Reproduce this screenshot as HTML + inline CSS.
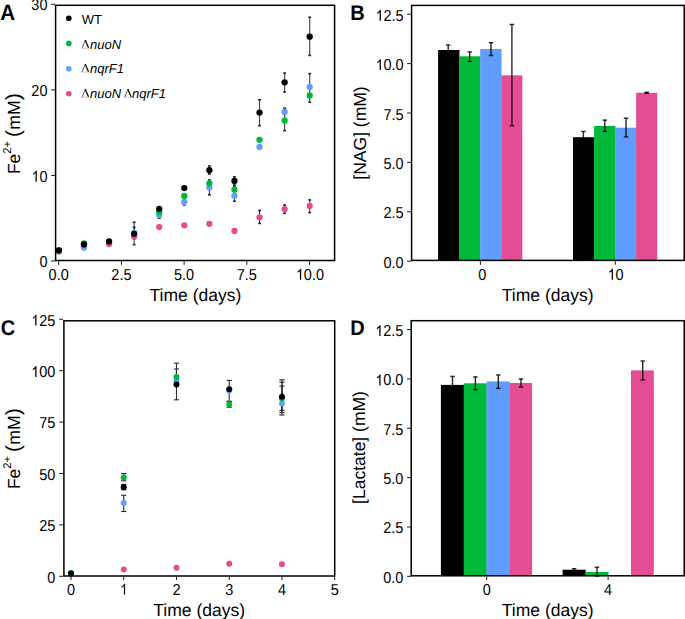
<!DOCTYPE html>
<html><head><meta charset="utf-8"><style>
html,body{margin:0;padding:0;background:#fff;}
svg{display:block;font-family:"Liberation Sans", sans-serif;}
text{fill:#000;text-rendering:geometricPrecision;}
</style></head><body>
<svg width="685" height="619" viewBox="0 0 685 619">
<rect width="685" height="619" fill="#fff"/>
<line x1="51.20" y1="261.00" x2="55.00" y2="261.00" stroke="#1a1a1a" stroke-width="1.0"/>
<text transform="translate(47.50,267.20) scale(1,1.09)" font-size="14.5" text-anchor="end" font-weight="normal" font-style="normal">0</text>
<line x1="51.20" y1="175.43" x2="55.00" y2="175.43" stroke="#1a1a1a" stroke-width="1.0"/>
<path d="M 763 0 L 583 0 L 583 1102 C 540 1063 483 1023 413 984 C 343 945 290 915 245 894 L 245 1061 C 330 1105 406 1159 479 1221 C 552 1284 604 1346 635 1409 L 763 1409 Z" fill="#000" transform="translate(31.37,181.63) scale(0.00708,-0.00772)"/>
<text transform="translate(47.50,181.63) scale(1,1.09)" font-size="14.5" text-anchor="end" font-weight="normal" font-style="normal"> 0</text>
<line x1="51.20" y1="89.86" x2="55.00" y2="89.86" stroke="#1a1a1a" stroke-width="1.0"/>
<text transform="translate(47.50,96.06) scale(1,1.09)" font-size="14.5" text-anchor="end" font-weight="normal" font-style="normal">20</text>
<line x1="51.20" y1="4.29" x2="55.00" y2="4.29" stroke="#1a1a1a" stroke-width="1.0"/>
<text transform="translate(47.50,10.49) scale(1,1.09)" font-size="14.5" text-anchor="end" font-weight="normal" font-style="normal">30</text>
<line x1="58.70" y1="261.20" x2="58.70" y2="264.80" stroke="#1a1a1a" stroke-width="1.0"/>
<text transform="translate(58.70,279.70) scale(1,1.09)" font-size="14.5" text-anchor="middle" font-weight="normal" font-style="normal">0.0</text>
<line x1="121.40" y1="261.20" x2="121.40" y2="264.80" stroke="#1a1a1a" stroke-width="1.0"/>
<text transform="translate(121.40,279.70) scale(1,1.09)" font-size="14.5" text-anchor="middle" font-weight="normal" font-style="normal">2.5</text>
<line x1="184.10" y1="261.20" x2="184.10" y2="264.80" stroke="#1a1a1a" stroke-width="1.0"/>
<text transform="translate(184.10,279.70) scale(1,1.09)" font-size="14.5" text-anchor="middle" font-weight="normal" font-style="normal">5.0</text>
<line x1="246.80" y1="261.20" x2="246.80" y2="264.80" stroke="#1a1a1a" stroke-width="1.0"/>
<text transform="translate(246.80,279.70) scale(1,1.09)" font-size="14.5" text-anchor="middle" font-weight="normal" font-style="normal">7.5</text>
<line x1="309.50" y1="261.20" x2="309.50" y2="264.80" stroke="#1a1a1a" stroke-width="1.0"/>
<path d="M 763 0 L 583 0 L 583 1102 C 540 1063 483 1023 413 984 C 343 945 290 915 245 894 L 245 1061 C 330 1105 406 1159 479 1221 C 552 1284 604 1346 635 1409 L 763 1409 Z" fill="#000" transform="translate(295.79,279.70) scale(0.00708,-0.00772)"/>
<text transform="translate(309.90,279.70) scale(1,1.09)" font-size="14.5" text-anchor="middle" font-weight="normal" font-style="normal"> 0.0</text>
<text x="195.40" y="300.50" font-size="17.5" text-anchor="middle" font-weight="normal" font-style="normal">Time (days)</text>
<text transform="translate(20.1,174.1) rotate(-90)" font-size="17.5" text-anchor="start">Fe<tspan font-size="11.3" dy="-9.3">2+</tspan><tspan dy="9.3" dx="3.8" font-size="20.5">(</tspan><tspan font-size="17.7" dx="0.3">mM</tspan><tspan font-size="20.5" dx="0.3">)</tspan></text>
<text transform="translate(0.20,19.90) scale(1,1.08)" font-size="20.5" text-anchor="start" font-weight="bold" font-style="normal">A</text>
<circle cx="68.80" cy="18.20" r="2.8" fill="#000000"/>
<circle cx="68.80" cy="43.40" r="2.8" fill="#00B938"/>
<circle cx="68.80" cy="68.80" r="2.8" fill="#619CFF"/>
<circle cx="68.80" cy="93.70" r="2.8" fill="#E44D94"/>
<text x="81.70" y="23.70" font-size="13.0" text-anchor="start" font-weight="normal" font-style="normal">WT</text>
<path d="M81.90,48.30 L85.40,40.10" stroke="#444" stroke-width="0.85" fill="none"/>
<path d="M85.20,40.10 L88.60,48.10" stroke="#111" stroke-width="1.35" fill="none"/>
<path d="M81.90,48.20 L88.90,48.20" stroke="#aaa" stroke-width="0.7" fill="none"/>
<text x="90.00" y="48.60" font-size="13.0" text-anchor="start" font-weight="normal" font-style="italic">nuoN</text>
<path d="M81.90,72.20 L85.40,64.00" stroke="#444" stroke-width="0.85" fill="none"/>
<path d="M85.20,64.00 L88.60,72.00" stroke="#111" stroke-width="1.35" fill="none"/>
<path d="M81.90,72.10 L88.90,72.10" stroke="#aaa" stroke-width="0.7" fill="none"/>
<text x="90.00" y="72.50" font-size="13.0" text-anchor="start" font-weight="normal" font-style="italic">nqrF1</text>
<path d="M81.90,97.30 L85.40,89.10" stroke="#444" stroke-width="0.85" fill="none"/>
<path d="M85.20,89.10 L88.60,97.10" stroke="#111" stroke-width="1.35" fill="none"/>
<path d="M81.90,97.20 L88.90,97.20" stroke="#aaa" stroke-width="0.7" fill="none"/>
<text x="90.00" y="97.60" font-size="13.0" text-anchor="start" font-weight="normal" font-style="italic">nuoN</text>
<path d="M124.50,97.30 L128.00,89.10" stroke="#444" stroke-width="0.85" fill="none"/>
<path d="M127.80,89.10 L131.20,97.10" stroke="#111" stroke-width="1.35" fill="none"/>
<path d="M124.50,97.20 L131.50,97.20" stroke="#aaa" stroke-width="0.7" fill="none"/>
<text x="132.00" y="97.60" font-size="13.0" text-anchor="start" font-weight="normal" font-style="italic">nqrF1</text>
<line x1="134.14" y1="222.30" x2="134.14" y2="244.60" stroke="#444" stroke-width="1.1"/>
<line x1="132.74" y1="222.30" x2="135.54" y2="222.30" stroke="#222" stroke-width="1.6"/>
<line x1="132.74" y1="244.60" x2="135.54" y2="244.60" stroke="#222" stroke-width="1.6"/>
<line x1="134.14" y1="227.30" x2="134.14" y2="238.70" stroke="#444" stroke-width="1.1"/>
<line x1="132.74" y1="227.30" x2="135.54" y2="227.30" stroke="#222" stroke-width="1.6"/>
<line x1="132.74" y1="238.70" x2="135.54" y2="238.70" stroke="#222" stroke-width="1.6"/>
<line x1="159.22" y1="211.80" x2="159.22" y2="218.20" stroke="#444" stroke-width="1.1"/>
<line x1="157.82" y1="211.80" x2="160.62" y2="211.80" stroke="#222" stroke-width="1.6"/>
<line x1="157.82" y1="218.20" x2="160.62" y2="218.20" stroke="#222" stroke-width="1.6"/>
<line x1="184.30" y1="198.80" x2="184.30" y2="205.00" stroke="#444" stroke-width="1.1"/>
<line x1="182.90" y1="198.80" x2="185.70" y2="198.80" stroke="#222" stroke-width="1.6"/>
<line x1="182.90" y1="205.00" x2="185.70" y2="205.00" stroke="#222" stroke-width="1.6"/>
<line x1="209.38" y1="166.00" x2="209.38" y2="174.00" stroke="#444" stroke-width="1.1"/>
<line x1="207.98" y1="166.00" x2="210.78" y2="166.00" stroke="#222" stroke-width="1.6"/>
<line x1="207.98" y1="174.00" x2="210.78" y2="174.00" stroke="#222" stroke-width="1.6"/>
<line x1="209.38" y1="180.00" x2="209.38" y2="194.80" stroke="#444" stroke-width="1.1"/>
<line x1="207.98" y1="180.00" x2="210.78" y2="180.00" stroke="#222" stroke-width="1.6"/>
<line x1="207.98" y1="194.80" x2="210.78" y2="194.80" stroke="#222" stroke-width="1.6"/>
<line x1="234.46" y1="176.80" x2="234.46" y2="185.00" stroke="#444" stroke-width="1.1"/>
<line x1="233.06" y1="176.80" x2="235.86" y2="176.80" stroke="#222" stroke-width="1.6"/>
<line x1="233.06" y1="185.00" x2="235.86" y2="185.00" stroke="#222" stroke-width="1.6"/>
<line x1="234.46" y1="186.00" x2="234.46" y2="201.30" stroke="#444" stroke-width="1.1"/>
<line x1="233.06" y1="186.00" x2="235.86" y2="186.00" stroke="#222" stroke-width="1.6"/>
<line x1="233.06" y1="201.30" x2="235.86" y2="201.30" stroke="#222" stroke-width="1.6"/>
<line x1="259.54" y1="99.80" x2="259.54" y2="125.70" stroke="#444" stroke-width="1.1"/>
<line x1="258.14" y1="99.80" x2="260.94" y2="99.80" stroke="#222" stroke-width="1.6"/>
<line x1="258.14" y1="125.70" x2="260.94" y2="125.70" stroke="#222" stroke-width="1.6"/>
<line x1="259.54" y1="210.50" x2="259.54" y2="223.40" stroke="#444" stroke-width="1.1"/>
<line x1="258.14" y1="210.50" x2="260.94" y2="210.50" stroke="#222" stroke-width="1.6"/>
<line x1="258.14" y1="223.40" x2="260.94" y2="223.40" stroke="#222" stroke-width="1.6"/>
<line x1="284.62" y1="73.10" x2="284.62" y2="92.00" stroke="#444" stroke-width="1.1"/>
<line x1="283.22" y1="73.10" x2="286.02" y2="73.10" stroke="#222" stroke-width="1.6"/>
<line x1="283.22" y1="92.00" x2="286.02" y2="92.00" stroke="#222" stroke-width="1.6"/>
<line x1="284.62" y1="108.20" x2="284.62" y2="130.60" stroke="#444" stroke-width="1.1"/>
<line x1="283.22" y1="108.20" x2="286.02" y2="108.20" stroke="#222" stroke-width="1.6"/>
<line x1="283.22" y1="130.60" x2="286.02" y2="130.60" stroke="#222" stroke-width="1.6"/>
<line x1="284.62" y1="205.00" x2="284.62" y2="213.20" stroke="#444" stroke-width="1.1"/>
<line x1="283.22" y1="205.00" x2="286.02" y2="205.00" stroke="#222" stroke-width="1.6"/>
<line x1="283.22" y1="213.20" x2="286.02" y2="213.20" stroke="#222" stroke-width="1.6"/>
<line x1="309.70" y1="17.30" x2="309.70" y2="55.40" stroke="#444" stroke-width="1.1"/>
<line x1="308.30" y1="17.30" x2="311.10" y2="17.30" stroke="#222" stroke-width="1.6"/>
<line x1="308.30" y1="55.40" x2="311.10" y2="55.40" stroke="#222" stroke-width="1.6"/>
<line x1="309.70" y1="73.60" x2="309.70" y2="102.20" stroke="#444" stroke-width="1.1"/>
<line x1="308.30" y1="73.60" x2="311.10" y2="73.60" stroke="#222" stroke-width="1.6"/>
<line x1="308.30" y1="102.20" x2="311.10" y2="102.20" stroke="#222" stroke-width="1.6"/>
<line x1="309.70" y1="199.90" x2="309.70" y2="212.60" stroke="#444" stroke-width="1.1"/>
<line x1="308.30" y1="199.90" x2="311.10" y2="199.90" stroke="#222" stroke-width="1.6"/>
<line x1="308.30" y1="212.60" x2="311.10" y2="212.60" stroke="#222" stroke-width="1.6"/>
<circle cx="58.90" cy="251.30" r="3.15" fill="#E44D94"/>
<circle cx="83.98" cy="246.20" r="3.15" fill="#E44D94"/>
<circle cx="109.06" cy="244.10" r="3.15" fill="#E44D94"/>
<circle cx="134.14" cy="236.50" r="3.15" fill="#E44D94"/>
<circle cx="159.22" cy="227.10" r="3.15" fill="#E44D94"/>
<circle cx="184.30" cy="225.30" r="3.15" fill="#E44D94"/>
<circle cx="209.38" cy="223.80" r="3.15" fill="#E44D94"/>
<circle cx="234.46" cy="231.00" r="3.15" fill="#E44D94"/>
<circle cx="259.54" cy="217.30" r="3.15" fill="#E44D94"/>
<circle cx="284.62" cy="209.10" r="3.15" fill="#E44D94"/>
<circle cx="309.70" cy="206.00" r="3.15" fill="#E44D94"/>
<circle cx="58.90" cy="251.30" r="3.15" fill="#619CFF"/>
<circle cx="83.98" cy="247.60" r="3.15" fill="#619CFF"/>
<circle cx="134.14" cy="233.00" r="3.15" fill="#619CFF"/>
<circle cx="159.22" cy="215.00" r="3.15" fill="#619CFF"/>
<circle cx="184.30" cy="201.90" r="3.15" fill="#619CFF"/>
<circle cx="209.38" cy="187.60" r="3.15" fill="#619CFF"/>
<circle cx="234.46" cy="195.80" r="3.15" fill="#619CFF"/>
<circle cx="259.54" cy="147.00" r="3.15" fill="#619CFF"/>
<circle cx="284.62" cy="111.90" r="3.15" fill="#619CFF"/>
<circle cx="309.70" cy="86.90" r="3.15" fill="#619CFF"/>
<circle cx="58.90" cy="250.50" r="3.15" fill="#00B938"/>
<circle cx="83.98" cy="243.40" r="3.15" fill="#00B938"/>
<circle cx="159.22" cy="212.00" r="3.15" fill="#00B938"/>
<circle cx="184.30" cy="196.00" r="3.15" fill="#00B938"/>
<circle cx="209.38" cy="183.30" r="3.15" fill="#00B938"/>
<circle cx="234.46" cy="189.70" r="3.15" fill="#00B938"/>
<circle cx="259.54" cy="139.80" r="3.15" fill="#00B938"/>
<circle cx="284.62" cy="120.60" r="3.15" fill="#00B938"/>
<circle cx="309.70" cy="95.40" r="3.15" fill="#00B938"/>
<circle cx="58.90" cy="250.30" r="3.15" fill="#000000"/>
<circle cx="83.98" cy="244.40" r="3.15" fill="#000000"/>
<circle cx="109.06" cy="241.40" r="3.15" fill="#000000"/>
<circle cx="134.14" cy="233.80" r="3.15" fill="#000000"/>
<circle cx="159.22" cy="208.80" r="3.15" fill="#000000"/>
<circle cx="184.30" cy="188.10" r="3.15" fill="#000000"/>
<circle cx="209.38" cy="170.20" r="3.15" fill="#000000"/>
<circle cx="234.46" cy="180.90" r="3.15" fill="#000000"/>
<circle cx="259.54" cy="112.60" r="3.15" fill="#000000"/>
<circle cx="284.62" cy="82.30" r="3.15" fill="#000000"/>
<circle cx="309.70" cy="36.70" r="3.15" fill="#000000"/>
<rect x="55.6" y="5.3" width="279.00" height="255.20" fill="none" stroke="#000" stroke-width="1.5"/>
<line x1="407.10" y1="261.20" x2="411.00" y2="261.20" stroke="#1a1a1a" stroke-width="1.0"/>
<text transform="translate(403.70,267.70) scale(1,1.09)" font-size="14.5" text-anchor="end" font-weight="normal" font-style="normal">0.0</text>
<line x1="407.10" y1="211.80" x2="411.00" y2="211.80" stroke="#1a1a1a" stroke-width="1.0"/>
<text transform="translate(403.70,218.30) scale(1,1.09)" font-size="14.5" text-anchor="end" font-weight="normal" font-style="normal">2.5</text>
<line x1="407.10" y1="162.40" x2="411.00" y2="162.40" stroke="#1a1a1a" stroke-width="1.0"/>
<text transform="translate(403.70,168.90) scale(1,1.09)" font-size="14.5" text-anchor="end" font-weight="normal" font-style="normal">5.0</text>
<line x1="407.10" y1="113.00" x2="411.00" y2="113.00" stroke="#1a1a1a" stroke-width="1.0"/>
<text transform="translate(403.70,119.50) scale(1,1.09)" font-size="14.5" text-anchor="end" font-weight="normal" font-style="normal">7.5</text>
<line x1="407.10" y1="63.60" x2="411.00" y2="63.60" stroke="#1a1a1a" stroke-width="1.0"/>
<path d="M 763 0 L 583 0 L 583 1102 C 540 1063 483 1023 413 984 C 343 945 290 915 245 894 L 245 1061 C 330 1105 406 1159 479 1221 C 552 1284 604 1346 635 1409 L 763 1409 Z" fill="#000" transform="translate(375.48,70.10) scale(0.00708,-0.00772)"/>
<text transform="translate(403.70,70.10) scale(1,1.09)" font-size="14.5" text-anchor="end" font-weight="normal" font-style="normal"> 0.0</text>
<line x1="407.10" y1="14.20" x2="411.00" y2="14.20" stroke="#1a1a1a" stroke-width="1.0"/>
<path d="M 763 0 L 583 0 L 583 1102 C 540 1063 483 1023 413 984 C 343 945 290 915 245 894 L 245 1061 C 330 1105 406 1159 479 1221 C 552 1284 604 1346 635 1409 L 763 1409 Z" fill="#000" transform="translate(375.48,20.70) scale(0.00708,-0.00772)"/>
<text transform="translate(403.70,20.70) scale(1,1.09)" font-size="14.5" text-anchor="end" font-weight="normal" font-style="normal"> 2.5</text>
<rect x="438.10" y="50.00" width="21.35" height="210.40" fill="#000000"/>
<rect x="459.15" y="56.30" width="21.35" height="204.10" fill="#00B938"/>
<rect x="480.20" y="49.00" width="21.35" height="211.40" fill="#619CFF"/>
<rect x="501.25" y="75.30" width="21.05" height="185.10" fill="#E44D94"/>
<rect x="573.00" y="137.20" width="21.35" height="123.20" fill="#000000"/>
<rect x="594.05" y="126.00" width="21.35" height="134.40" fill="#00B938"/>
<rect x="615.10" y="127.70" width="21.35" height="132.70" fill="#619CFF"/>
<rect x="636.15" y="92.80" width="21.05" height="167.60" fill="#E44D94"/>
<line x1="448.20" y1="45.00" x2="448.20" y2="55.00" stroke="#000" stroke-width="1.4" stroke-opacity="0.85"/>
<line x1="446.00" y1="45.00" x2="450.40" y2="45.00" stroke="#000" stroke-width="1.4" stroke-opacity="0.85"/>
<line x1="446.00" y1="55.00" x2="450.40" y2="55.00" stroke="#000" stroke-width="1.4" stroke-opacity="0.85"/>
<line x1="469.70" y1="51.90" x2="469.70" y2="61.40" stroke="#000" stroke-width="1.4" stroke-opacity="0.85"/>
<line x1="467.50" y1="51.90" x2="471.90" y2="51.90" stroke="#000" stroke-width="1.4" stroke-opacity="0.85"/>
<line x1="467.50" y1="61.40" x2="471.90" y2="61.40" stroke="#000" stroke-width="1.4" stroke-opacity="0.85"/>
<line x1="491.00" y1="42.70" x2="491.00" y2="55.50" stroke="#000" stroke-width="1.4" stroke-opacity="0.85"/>
<line x1="488.80" y1="42.70" x2="493.20" y2="42.70" stroke="#000" stroke-width="1.4" stroke-opacity="0.85"/>
<line x1="488.80" y1="55.50" x2="493.20" y2="55.50" stroke="#000" stroke-width="1.4" stroke-opacity="0.85"/>
<line x1="511.90" y1="24.50" x2="511.90" y2="125.70" stroke="#000" stroke-width="1.4" stroke-opacity="0.85"/>
<line x1="509.70" y1="24.50" x2="514.10" y2="24.50" stroke="#000" stroke-width="1.4" stroke-opacity="0.85"/>
<line x1="509.70" y1="125.70" x2="514.10" y2="125.70" stroke="#000" stroke-width="1.4" stroke-opacity="0.85"/>
<line x1="583.40" y1="131.50" x2="583.40" y2="143.00" stroke="#000" stroke-width="1.4" stroke-opacity="0.85"/>
<line x1="581.20" y1="131.50" x2="585.60" y2="131.50" stroke="#000" stroke-width="1.4" stroke-opacity="0.85"/>
<line x1="581.20" y1="143.00" x2="585.60" y2="143.00" stroke="#000" stroke-width="1.4" stroke-opacity="0.85"/>
<line x1="604.80" y1="120.10" x2="604.80" y2="131.40" stroke="#000" stroke-width="1.4" stroke-opacity="0.85"/>
<line x1="602.60" y1="120.10" x2="607.00" y2="120.10" stroke="#000" stroke-width="1.4" stroke-opacity="0.85"/>
<line x1="602.60" y1="131.40" x2="607.00" y2="131.40" stroke="#000" stroke-width="1.4" stroke-opacity="0.85"/>
<line x1="626.00" y1="118.20" x2="626.00" y2="136.90" stroke="#000" stroke-width="1.4" stroke-opacity="0.85"/>
<line x1="623.80" y1="118.20" x2="628.20" y2="118.20" stroke="#000" stroke-width="1.4" stroke-opacity="0.85"/>
<line x1="623.80" y1="136.90" x2="628.20" y2="136.90" stroke="#000" stroke-width="1.4" stroke-opacity="0.85"/>
<line x1="646.60" y1="92.30" x2="646.60" y2="93.30" stroke="#000" stroke-width="1.4" stroke-opacity="0.85"/>
<line x1="644.40" y1="92.30" x2="648.80" y2="92.30" stroke="#000" stroke-width="1.4" stroke-opacity="0.85"/>
<line x1="644.40" y1="93.30" x2="648.80" y2="93.30" stroke="#000" stroke-width="1.4" stroke-opacity="0.85"/>
<rect x="411.6" y="5.4" width="272.60" height="255.00" fill="none" stroke="#000" stroke-width="1.5"/>
<line x1="480.40" y1="261.20" x2="480.40" y2="264.80" stroke="#1a1a1a" stroke-width="1.0"/>
<text transform="translate(482.20,279.70) scale(1,1.09)" font-size="14.5" text-anchor="middle" font-weight="normal" font-style="normal">0</text>
<line x1="615.30" y1="261.20" x2="615.30" y2="264.80" stroke="#1a1a1a" stroke-width="1.0"/>
<path d="M 763 0 L 583 0 L 583 1102 C 540 1063 483 1023 413 984 C 343 945 290 915 245 894 L 245 1061 C 330 1105 406 1159 479 1221 C 552 1284 604 1346 635 1409 L 763 1409 Z" fill="#000" transform="translate(607.54,279.70) scale(0.00708,-0.00772)"/>
<text transform="translate(615.60,279.70) scale(1,1.09)" font-size="14.5" text-anchor="middle" font-weight="normal" font-style="normal"> 0</text>
<text x="547.70" y="300.50" font-size="17.5" text-anchor="middle" font-weight="normal" font-style="normal">Time (days)</text>
<text transform="translate(365.7,133) rotate(-90)" font-size="17.5" text-anchor="middle">[NAG] (mM)</text>
<text transform="translate(350.30,19.60) scale(1,1.06)" font-size="20.0" text-anchor="start" font-weight="bold" font-style="normal">B</text>
<line x1="59.20" y1="576.30" x2="63.00" y2="576.30" stroke="#1a1a1a" stroke-width="1.0"/>
<text transform="translate(55.30,582.60) scale(1,1.09)" font-size="14.5" text-anchor="end" font-weight="normal" font-style="normal">0</text>
<line x1="59.20" y1="524.90" x2="63.00" y2="524.90" stroke="#1a1a1a" stroke-width="1.0"/>
<text transform="translate(55.30,531.20) scale(1,1.09)" font-size="14.5" text-anchor="end" font-weight="normal" font-style="normal">25</text>
<line x1="59.20" y1="473.50" x2="63.00" y2="473.50" stroke="#1a1a1a" stroke-width="1.0"/>
<text transform="translate(55.30,479.80) scale(1,1.09)" font-size="14.5" text-anchor="end" font-weight="normal" font-style="normal">50</text>
<line x1="59.20" y1="422.10" x2="63.00" y2="422.10" stroke="#1a1a1a" stroke-width="1.0"/>
<text transform="translate(55.30,428.40) scale(1,1.09)" font-size="14.5" text-anchor="end" font-weight="normal" font-style="normal">75</text>
<line x1="59.20" y1="370.70" x2="63.00" y2="370.70" stroke="#1a1a1a" stroke-width="1.0"/>
<path d="M 763 0 L 583 0 L 583 1102 C 540 1063 483 1023 413 984 C 343 945 290 915 245 894 L 245 1061 C 330 1105 406 1159 479 1221 C 552 1284 604 1346 635 1409 L 763 1409 Z" fill="#000" transform="translate(31.11,377.00) scale(0.00708,-0.00772)"/>
<text transform="translate(55.30,377.00) scale(1,1.09)" font-size="14.5" text-anchor="end" font-weight="normal" font-style="normal"> 00</text>
<line x1="59.20" y1="319.30" x2="63.00" y2="319.30" stroke="#1a1a1a" stroke-width="1.0"/>
<path d="M 763 0 L 583 0 L 583 1102 C 540 1063 483 1023 413 984 C 343 945 290 915 245 894 L 245 1061 C 330 1105 406 1159 479 1221 C 552 1284 604 1346 635 1409 L 763 1409 Z" fill="#000" transform="translate(31.11,325.60) scale(0.00708,-0.00772)"/>
<text transform="translate(55.30,325.60) scale(1,1.09)" font-size="14.5" text-anchor="end" font-weight="normal" font-style="normal"> 25</text>
<line x1="71.00" y1="576.80" x2="71.00" y2="580.00" stroke="#1a1a1a" stroke-width="1.0"/>
<text transform="translate(71.00,594.60) scale(1,1.09)" font-size="14.5" text-anchor="middle" font-weight="normal" font-style="normal">0</text>
<line x1="123.74" y1="576.80" x2="123.74" y2="580.00" stroke="#1a1a1a" stroke-width="1.0"/>
<path d="M 763 0 L 583 0 L 583 1102 C 540 1063 483 1023 413 984 C 343 945 290 915 245 894 L 245 1061 C 330 1105 406 1159 479 1221 C 552 1284 604 1346 635 1409 L 763 1409 Z" fill="#000" transform="translate(119.71,594.60) scale(0.00708,-0.00772)"/>
<text transform="translate(123.74,594.60) scale(1,1.09)" font-size="14.5" text-anchor="middle" font-weight="normal" font-style="normal"> </text>
<line x1="176.48" y1="576.80" x2="176.48" y2="580.00" stroke="#1a1a1a" stroke-width="1.0"/>
<text transform="translate(176.48,594.60) scale(1,1.09)" font-size="14.5" text-anchor="middle" font-weight="normal" font-style="normal">2</text>
<line x1="229.22" y1="576.80" x2="229.22" y2="580.00" stroke="#1a1a1a" stroke-width="1.0"/>
<text transform="translate(229.22,594.60) scale(1,1.09)" font-size="14.5" text-anchor="middle" font-weight="normal" font-style="normal">3</text>
<line x1="281.96" y1="576.80" x2="281.96" y2="580.00" stroke="#1a1a1a" stroke-width="1.0"/>
<text transform="translate(281.96,594.60) scale(1,1.09)" font-size="14.5" text-anchor="middle" font-weight="normal" font-style="normal">4</text>
<line x1="334.70" y1="576.80" x2="334.70" y2="580.00" stroke="#1a1a1a" stroke-width="1.0"/>
<text transform="translate(334.70,594.60) scale(1,1.09)" font-size="14.5" text-anchor="middle" font-weight="normal" font-style="normal">5</text>
<text x="199.20" y="615.50" font-size="17.5" text-anchor="middle" font-weight="normal" font-style="normal">Time (days)</text>
<text transform="translate(20.1,489.1) rotate(-90)" font-size="17.5" text-anchor="start">Fe<tspan font-size="11.3" dy="-9.3">2+</tspan><tspan dy="9.3" dx="3.8" font-size="20.5">(</tspan><tspan font-size="17.7" dx="0.3">mM</tspan><tspan font-size="20.5" dx="0.3">)</tspan></text>
<text transform="translate(0.80,334.50) scale(1,1.06)" font-size="20.0" text-anchor="start" font-weight="bold" font-style="normal">C</text>
<line x1="123.74" y1="473.50" x2="123.74" y2="480.80" stroke="#2a2a2a" stroke-width="1.1"/>
<line x1="121.14" y1="473.50" x2="126.34" y2="473.50" stroke="#2a2a2a" stroke-width="1.1"/>
<line x1="121.14" y1="480.80" x2="126.34" y2="480.80" stroke="#2a2a2a" stroke-width="1.1"/>
<line x1="123.74" y1="484.40" x2="123.74" y2="489.70" stroke="#2a2a2a" stroke-width="1.1"/>
<line x1="121.14" y1="484.40" x2="126.34" y2="484.40" stroke="#2a2a2a" stroke-width="1.1"/>
<line x1="121.14" y1="489.70" x2="126.34" y2="489.70" stroke="#2a2a2a" stroke-width="1.1"/>
<line x1="123.74" y1="495.30" x2="123.74" y2="511.50" stroke="#2a2a2a" stroke-width="1.1"/>
<line x1="121.14" y1="495.30" x2="126.34" y2="495.30" stroke="#2a2a2a" stroke-width="1.1"/>
<line x1="121.14" y1="511.50" x2="126.34" y2="511.50" stroke="#2a2a2a" stroke-width="1.1"/>
<line x1="176.48" y1="363.20" x2="176.48" y2="399.80" stroke="#2a2a2a" stroke-width="1.1"/>
<line x1="173.88" y1="363.20" x2="179.08" y2="363.20" stroke="#2a2a2a" stroke-width="1.1"/>
<line x1="173.88" y1="399.80" x2="179.08" y2="399.80" stroke="#2a2a2a" stroke-width="1.1"/>
<line x1="176.48" y1="369.00" x2="176.48" y2="385.00" stroke="#2a2a2a" stroke-width="1.1"/>
<line x1="173.88" y1="369.00" x2="179.08" y2="369.00" stroke="#2a2a2a" stroke-width="1.1"/>
<line x1="173.88" y1="385.00" x2="179.08" y2="385.00" stroke="#2a2a2a" stroke-width="1.1"/>
<line x1="229.22" y1="380.40" x2="229.22" y2="401.40" stroke="#2a2a2a" stroke-width="1.1"/>
<line x1="226.62" y1="380.40" x2="231.82" y2="380.40" stroke="#2a2a2a" stroke-width="1.1"/>
<line x1="226.62" y1="401.40" x2="231.82" y2="401.40" stroke="#2a2a2a" stroke-width="1.1"/>
<line x1="229.22" y1="401.40" x2="229.22" y2="407.20" stroke="#2a2a2a" stroke-width="1.1"/>
<line x1="226.62" y1="401.40" x2="231.82" y2="401.40" stroke="#2a2a2a" stroke-width="1.1"/>
<line x1="226.62" y1="407.20" x2="231.82" y2="407.20" stroke="#2a2a2a" stroke-width="1.1"/>
<line x1="281.96" y1="379.80" x2="281.96" y2="412.70" stroke="#2a2a2a" stroke-width="1.1"/>
<line x1="279.36" y1="379.80" x2="284.56" y2="379.80" stroke="#2a2a2a" stroke-width="1.1"/>
<line x1="279.36" y1="412.70" x2="284.56" y2="412.70" stroke="#2a2a2a" stroke-width="1.1"/>
<line x1="281.96" y1="382.10" x2="281.96" y2="415.00" stroke="#2a2a2a" stroke-width="1.1"/>
<line x1="279.36" y1="382.10" x2="284.56" y2="382.10" stroke="#2a2a2a" stroke-width="1.1"/>
<line x1="279.36" y1="415.00" x2="284.56" y2="415.00" stroke="#2a2a2a" stroke-width="1.1"/>
<line x1="281.96" y1="386.00" x2="281.96" y2="410.40" stroke="#2a2a2a" stroke-width="1.1"/>
<line x1="279.36" y1="386.00" x2="284.56" y2="386.00" stroke="#2a2a2a" stroke-width="1.1"/>
<line x1="279.36" y1="410.40" x2="284.56" y2="410.40" stroke="#2a2a2a" stroke-width="1.1"/>
<circle cx="71.00" cy="573.60" r="3.0" fill="#E44D94"/>
<circle cx="123.74" cy="569.60" r="3.0" fill="#E44D94"/>
<circle cx="176.48" cy="567.80" r="3.0" fill="#E44D94"/>
<circle cx="229.22" cy="563.80" r="3.0" fill="#E44D94"/>
<circle cx="281.96" cy="564.20" r="3.0" fill="#E44D94"/>
<circle cx="71.00" cy="573.60" r="3.0" fill="#619CFF"/>
<circle cx="123.74" cy="503.00" r="3.0" fill="#619CFF"/>
<circle cx="176.48" cy="381.00" r="3.0" fill="#619CFF"/>
<circle cx="229.22" cy="390.50" r="3.0" fill="#619CFF"/>
<circle cx="281.96" cy="403.40" r="3.0" fill="#619CFF"/>
<circle cx="71.00" cy="572.90" r="3.0" fill="#00B938"/>
<circle cx="123.74" cy="477.50" r="3.0" fill="#00B938"/>
<circle cx="176.48" cy="377.00" r="3.0" fill="#00B938"/>
<circle cx="229.22" cy="404.30" r="3.0" fill="#00B938"/>
<circle cx="281.96" cy="398.50" r="3.0" fill="#00B938"/>
<circle cx="71.00" cy="573.60" r="3.0" fill="#000000"/>
<circle cx="123.74" cy="487.20" r="3.0" fill="#000000"/>
<circle cx="176.48" cy="384.40" r="3.0" fill="#000000"/>
<circle cx="229.22" cy="389.20" r="3.0" fill="#000000"/>
<circle cx="281.96" cy="396.80" r="3.0" fill="#000000"/>
<rect x="63.9" y="320.8" width="270.80" height="255.20" fill="none" stroke="#000" stroke-width="1.5"/>
<line x1="407.10" y1="576.30" x2="411.00" y2="576.30" stroke="#1a1a1a" stroke-width="1.0"/>
<text transform="translate(403.40,582.80) scale(1,1.09)" font-size="14.5" text-anchor="end" font-weight="normal" font-style="normal">0.0</text>
<line x1="407.10" y1="526.95" x2="411.00" y2="526.95" stroke="#1a1a1a" stroke-width="1.0"/>
<text transform="translate(403.40,533.45) scale(1,1.09)" font-size="14.5" text-anchor="end" font-weight="normal" font-style="normal">2.5</text>
<line x1="407.10" y1="477.60" x2="411.00" y2="477.60" stroke="#1a1a1a" stroke-width="1.0"/>
<text transform="translate(403.40,484.10) scale(1,1.09)" font-size="14.5" text-anchor="end" font-weight="normal" font-style="normal">5.0</text>
<line x1="407.10" y1="428.25" x2="411.00" y2="428.25" stroke="#1a1a1a" stroke-width="1.0"/>
<text transform="translate(403.40,434.75) scale(1,1.09)" font-size="14.5" text-anchor="end" font-weight="normal" font-style="normal">7.5</text>
<line x1="407.10" y1="378.90" x2="411.00" y2="378.90" stroke="#1a1a1a" stroke-width="1.0"/>
<path d="M 763 0 L 583 0 L 583 1102 C 540 1063 483 1023 413 984 C 343 945 290 915 245 894 L 245 1061 C 330 1105 406 1159 479 1221 C 552 1284 604 1346 635 1409 L 763 1409 Z" fill="#000" transform="translate(375.18,385.40) scale(0.00708,-0.00772)"/>
<text transform="translate(403.40,385.40) scale(1,1.09)" font-size="14.5" text-anchor="end" font-weight="normal" font-style="normal"> 0.0</text>
<line x1="407.10" y1="329.55" x2="411.00" y2="329.55" stroke="#1a1a1a" stroke-width="1.0"/>
<path d="M 763 0 L 583 0 L 583 1102 C 540 1063 483 1023 413 984 C 343 945 290 915 245 894 L 245 1061 C 330 1105 406 1159 479 1221 C 552 1284 604 1346 635 1409 L 763 1409 Z" fill="#000" transform="translate(375.18,336.05) scale(0.00708,-0.00772)"/>
<text transform="translate(403.40,336.05) scale(1,1.09)" font-size="14.5" text-anchor="end" font-weight="normal" font-style="normal"> 2.5</text>
<rect x="440.90" y="384.90" width="23.10" height="190.90" fill="#000000"/>
<rect x="463.70" y="383.30" width="23.10" height="192.50" fill="#00B938"/>
<rect x="486.50" y="381.40" width="23.10" height="194.40" fill="#619CFF"/>
<rect x="509.30" y="383.00" width="22.80" height="192.80" fill="#E44D94"/>
<rect x="562.60" y="569.70" width="23.10" height="6.10" fill="#000000"/>
<rect x="585.40" y="571.90" width="23.10" height="3.90" fill="#00B938"/>
<rect x="631.00" y="370.40" width="22.80" height="205.40" fill="#E44D94"/>
<line x1="452.50" y1="376.40" x2="452.50" y2="393.40" stroke="#000" stroke-width="1.4" stroke-opacity="0.85"/>
<line x1="450.30" y1="376.40" x2="454.70" y2="376.40" stroke="#000" stroke-width="1.4" stroke-opacity="0.85"/>
<line x1="450.30" y1="393.40" x2="454.70" y2="393.40" stroke="#000" stroke-width="1.4" stroke-opacity="0.85"/>
<line x1="475.40" y1="376.90" x2="475.40" y2="389.70" stroke="#000" stroke-width="1.4" stroke-opacity="0.85"/>
<line x1="473.20" y1="376.90" x2="477.60" y2="376.90" stroke="#000" stroke-width="1.4" stroke-opacity="0.85"/>
<line x1="473.20" y1="389.70" x2="477.60" y2="389.70" stroke="#000" stroke-width="1.4" stroke-opacity="0.85"/>
<line x1="498.30" y1="374.90" x2="498.30" y2="388.40" stroke="#000" stroke-width="1.4" stroke-opacity="0.85"/>
<line x1="496.10" y1="374.90" x2="500.50" y2="374.90" stroke="#000" stroke-width="1.4" stroke-opacity="0.85"/>
<line x1="496.10" y1="388.40" x2="500.50" y2="388.40" stroke="#000" stroke-width="1.4" stroke-opacity="0.85"/>
<line x1="521.00" y1="379.00" x2="521.00" y2="387.00" stroke="#000" stroke-width="1.4" stroke-opacity="0.85"/>
<line x1="518.80" y1="379.00" x2="523.20" y2="379.00" stroke="#000" stroke-width="1.4" stroke-opacity="0.85"/>
<line x1="518.80" y1="387.00" x2="523.20" y2="387.00" stroke="#000" stroke-width="1.4" stroke-opacity="0.85"/>
<line x1="574.10" y1="568.70" x2="574.10" y2="570.70" stroke="#000" stroke-width="1.4" stroke-opacity="0.85"/>
<line x1="571.90" y1="568.70" x2="576.30" y2="568.70" stroke="#000" stroke-width="1.4" stroke-opacity="0.85"/>
<line x1="571.90" y1="570.70" x2="576.30" y2="570.70" stroke="#000" stroke-width="1.4" stroke-opacity="0.85"/>
<line x1="597.00" y1="567.20" x2="597.00" y2="576.00" stroke="#000" stroke-width="1.4" stroke-opacity="0.85"/>
<line x1="594.80" y1="567.20" x2="599.20" y2="567.20" stroke="#000" stroke-width="1.4" stroke-opacity="0.85"/>
<line x1="594.80" y1="576.00" x2="599.20" y2="576.00" stroke="#000" stroke-width="1.4" stroke-opacity="0.85"/>
<line x1="642.70" y1="361.00" x2="642.70" y2="379.90" stroke="#000" stroke-width="1.4" stroke-opacity="0.85"/>
<line x1="640.50" y1="361.00" x2="644.90" y2="361.00" stroke="#000" stroke-width="1.4" stroke-opacity="0.85"/>
<line x1="640.50" y1="379.90" x2="644.90" y2="379.90" stroke="#000" stroke-width="1.4" stroke-opacity="0.85"/>
<rect x="411.2" y="320.7" width="273.00" height="255.10" fill="none" stroke="#000" stroke-width="1.5"/>
<line x1="486.70" y1="576.80" x2="486.70" y2="580.00" stroke="#1a1a1a" stroke-width="1.0"/>
<text transform="translate(486.70,594.60) scale(1,1.09)" font-size="14.5" text-anchor="middle" font-weight="normal" font-style="normal">0</text>
<line x1="608.10" y1="576.80" x2="608.10" y2="580.00" stroke="#1a1a1a" stroke-width="1.0"/>
<text transform="translate(608.10,594.60) scale(1,1.09)" font-size="14.5" text-anchor="middle" font-weight="normal" font-style="normal">4</text>
<text x="547.70" y="615.50" font-size="17.5" text-anchor="middle" font-weight="normal" font-style="normal">Time (days)</text>
<text transform="translate(364.7,447.5) rotate(-90)" font-size="17.5" text-anchor="middle">[Lactate] (mM)</text>
<text transform="translate(350.30,334.80) scale(1,1.06)" font-size="20.0" text-anchor="start" font-weight="bold" font-style="normal">D</text>
</svg></body></html>
